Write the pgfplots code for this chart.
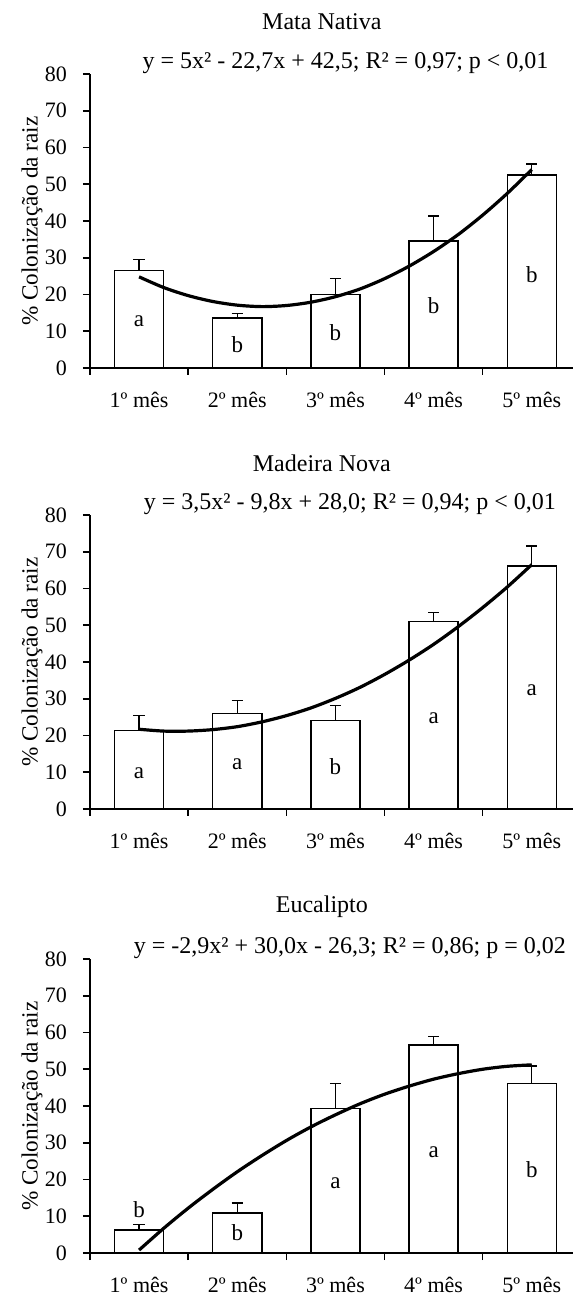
\documentclass[border=0pt]{standalone}
\usepackage{fontspec}
\setmainfont{Liberation Serif}
\usepackage{pgfplots}
\pgfplotsset{compat=1.18}

\pgfplotsset{
  panel/.style={
    scale only axis,
    width=241.5pt, height=147pt,
    xmin=0.5, xmax=5.42, ymin=0, ymax=80,
    axis x line*=bottom, axis y line*=left,
    axis line style={line width=0.8pt},
    tick align=outside,
    major tick length=3.5pt,
    tick style={line width=0.8pt, black},
    ytick={0,10,...,80},
    y tick label style={xshift=-4.5pt},
    xtick={0.5,1.5,2.5,3.5,4.5},
    xticklabels={},
    extra x ticks={1,2,3,4,5},
    extra x tick labels={1º mês,2º mês,3º mês,4º mês,5º mês},
    extra x tick style={major tick length=0pt, tick label style={yshift=-8.5pt}},
    /pgf/number format/assume math mode=true,
    clip=false,
  },
  barra/.style={ybar, bar width=0.5, fill=white, draw=black, line width=0.7pt,
    error bars/.cd, y dir=plus, y explicit,
    error bar style={line width=0.7pt},
    error mark=-,
    error mark options={rotate=90, line width=0.7pt, mark size=2.8pt}},
  curva/.style={line width=1.6pt, smooth, no markers},
}
\tikzset{
  titulo/.style={font=\fontsize{12}{14}\selectfont},
  letra/.style={font=\fontsize{11.5}{13}\selectfont},
  rotulo/.style={rotate=90, font=\fontsize{11.6}{13}\selectfont},
}

\begin{document}
\begin{tikzpicture}[font=\fontsize{11}{13}\selectfont]
\useasboundingbox (-45pt,-21pt) rectangle (241.5pt,626.5pt);

% Mata Nativa
\begin{axis}[panel, at={(0pt,442.5pt)}]
\addplot[barra] coordinates {
  (1,26.5) +- (0,3.0)
  (2,13.6) +- (0,1.2)
  (3,20.0) +- (0,4.3)
  (4,34.6) +- (0,6.8)
  (5,52.5) +- (0,3.0)
};
\addplot[curva] coordinates {
  (1,24.8) (1.25,21.9) (1.5,19.7) (1.75,18.1) (2,17.1) (2.25,16.7) (2.5,17.0)
  (2.75,17.9) (3,19.4) (3.25,21.5) (3.5,24.3) (3.75,27.7) (4,31.7)
  (4.25,36.3) (4.5,41.6) (4.75,47.5) (5,54.0)
};
\node[letra] at (axis cs:1,12.7) {a};
\node[letra] at (axis cs:2,6.4) {b};
\node[letra] at (axis cs:3,9.5) {b};
\node[letra] at (axis cs:4,17.0) {b};
\node[letra] at (axis cs:5,25.5) {b};
\node[titulo] at ([yshift=26pt]axis description cs:0.48,1) {Mata Nativa};
\node[titulo] at ([yshift=5.5pt]axis description cs:0.529,1) {y = 5x² - 22,7x + 42,5; R² = 0,97; p < 0,01};
\node[rotulo] at ([xshift=-29pt]axis description cs:0,0.5) {\% Colonização da raiz};
\end{axis}

% Madeira Nova
\begin{axis}[panel, at={(0pt,222pt)}]
\addplot[barra] coordinates {
  (1,21.3) +- (0,4.1)
  (2,26.0) +- (0,3.5)
  (3,24.0) +- (0,4.1)
  (4,51.0) +- (0,2.4)
  (5,66.1) +- (0,5.5)
};
\addplot[curva] coordinates {
  (1,21.7) (1.25,21.2) (1.5,21.2) (1.75,21.6) (2,22.4) (2.25,23.7) (2.5,25.4)
  (2.75,27.5) (3,30.1) (3.25,33.1) (3.5,36.6) (3.75,40.5) (4,44.8)
  (4.25,49.6) (4.5,54.8) (4.75,60.4) (5,66.5)
};
\node[letra] at (axis cs:1,9.7) {a};
\node[letra] at (axis cs:2,12.2) {a};
\node[letra] at (axis cs:3,11.6) {b};
\node[letra] at (axis cs:4,24.7) {a};
\node[letra] at (axis cs:5,32.2) {a};
\node[titulo] at ([yshift=26pt]axis description cs:0.48,1) {Madeira Nova};
\node[titulo] at ([yshift=5.5pt]axis description cs:0.538,1) {y = 3,5x² - 9,8x + 28,0; R² = 0,94; p < 0,01};
\node[rotulo] at ([xshift=-29pt]axis description cs:0,0.5) {\% Colonização da raiz};
\end{axis}

% Eucalipto
\begin{axis}[panel, at={(0pt,0pt)}]
\addplot[barra] coordinates {
  (1,6.3) +- (0,1.5)
  (2,10.9) +- (0,2.7)
  (3,39.3) +- (0,6.8)
  (4,56.6) +- (0,2.3)
  (5,46.2) +- (0,4.7)
};
\addplot[curva] coordinates {
  (1,0.8) (1.25,6.7) (1.5,12.2) (1.75,17.3) (2,22.1) (2.25,26.5) (2.5,30.6)
  (2.75,34.3) (3,37.6) (3.25,40.6) (3.5,43.2) (3.75,45.4) (4,47.3)
  (4.25,48.8) (4.5,50.0) (4.75,50.8) (5,51.2)
};
\node[letra] at (axis cs:1,11.8) {b};
\node[letra] at (axis cs:2,5.6) {b};
\node[letra] at (axis cs:3,19.1) {a};
\node[letra] at (axis cs:4,27.4) {a};
\node[letra] at (axis cs:5,22.7) {b};
\node[titulo] at ([yshift=26pt]axis description cs:0.48,1) {Eucalipto};
\node[titulo] at ([yshift=5.5pt]axis description cs:0.538,1) {y = -2,9x² + 30,0x - 26,3; R² = 0,86; p = 0,02};
\node[rotulo] at ([xshift=-29pt]axis description cs:0,0.5) {\% Colonização da raiz};
\end{axis}
\end{tikzpicture}
\end{document}
